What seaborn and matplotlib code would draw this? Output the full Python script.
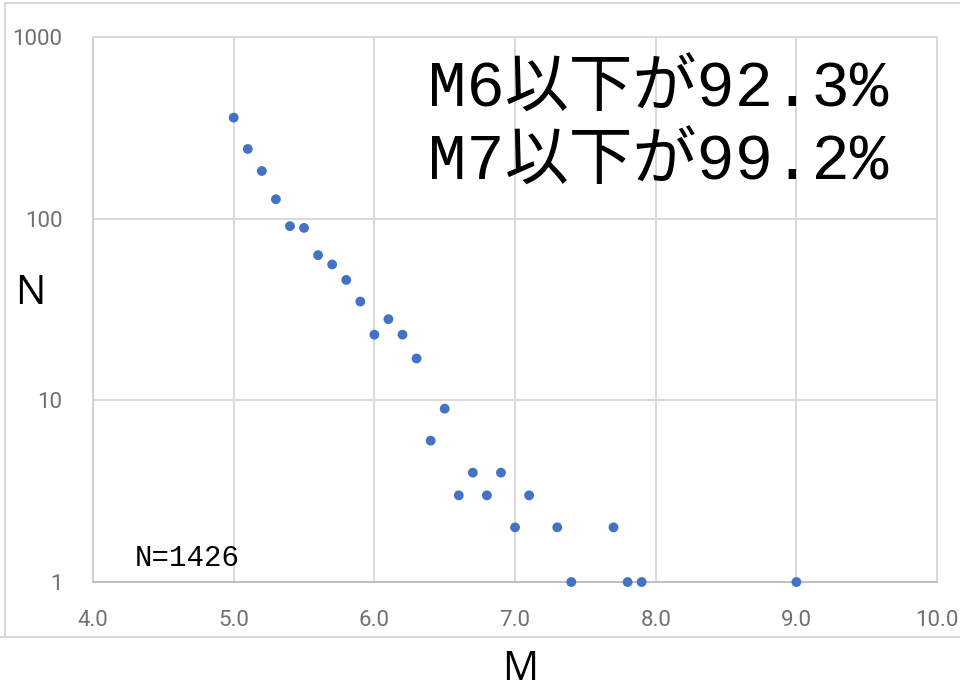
# Magnitude-frequency plot (log scale), N=1426
import matplotlib
matplotlib.use("Agg")
import matplotlib.pyplot as plt
import matplotlib.ticker as mticker
from matplotlib.lines import Line2D
import pandas as pd
import seaborn as sns

# Data
magnitude = [5.0, 5.1, 5.2, 5.3, 5.4, 5.5, 5.6, 5.7, 5.8, 5.9,
             6.0, 6.1, 6.2, 6.3, 6.4, 6.5, 6.6, 6.7, 6.8, 6.9,
             7.0, 7.1, 7.3, 7.4, 7.7, 7.8, 7.9, 9.0]
count = [360, 242, 183, 128, 91, 89, 63, 56, 46, 35,
         23, 28, 23, 17, 6, 9, 3, 4, 3, 4,
         2, 3, 2, 1, 2, 1, 1, 1]
x_ticks = [4.0, 5.0, 6.0, 7.0, 8.0, 9.0, 10.0]
y_ticks = [1, 10, 100, 1000]
notes = ["M6以下が92.3%", "M7以下が99.2%"]

df = pd.DataFrame({"M": magnitude, "N": count})

sns.set_style("white")
plt.rcParams['font.family'] = ['Open Sans', 'Noto Sans CJK JP', 'DejaVu Sans']

fig = plt.figure(figsize=(9.6, 6.87), dpi=100)
ax = fig.add_axes([0.0969, 0.1528, 0.8792, 0.7933])

grid_col = "#d9d9d9"
ax.set_yscale("log")
ax.set_xlim(4.0, 10.0)
ax.set_ylim(1, 1000)

sns.scatterplot(data=df, x="M", y="N", ax=ax, color="#4472C4", s=50,
                marker="o", edgecolor="none", clip_on=False, zorder=5)

ax.set_xticks(x_ticks)
ax.set_xticklabels([f"{t:.1f}" for t in x_ticks])
ax.xaxis.set_minor_locator(mticker.MultipleLocator(0.2))
ax.set_yticks(y_ticks)
ax.set_yticklabels([str(t) for t in y_ticks])
ax.yaxis.set_minor_locator(mticker.NullLocator())

ax.grid(True, which="major", color=grid_col, linewidth=1.4, zorder=0)
ax.set_axisbelow(True)
for sp in ax.spines.values():
    sp.set_color(grid_col)
    sp.set_linewidth(1.4)
ax.spines["bottom"].set_color("#bfbfbf")
ax.spines["left"].set_color("#cfcfcf")

tick_font = ['Roboto', 'DejaVu Sans']
ax.tick_params(axis="x", which="major", length=0, pad=20, labelsize=16, labelcolor="#707070")
ax.tick_params(axis="x", which="minor", direction="in", length=5, width=1.2, color="#bfbfbf")
ax.tick_params(axis="y", which="major", length=0, pad=22, labelsize=16, labelcolor="#707070")
for lab in ax.get_xticklabels() + ax.get_yticklabels():
    lab.set_family(tick_font)

ax.set_xlabel("")
ax.set_ylabel("")

# notes
mono_cjk = ['Liberation Mono', 'Noto Sans CJK JP']
ax.text(0.397, 0.903, notes[0], transform=ax.transAxes, fontsize=46,
        family=mono_cjk, color="black", va="center", ha="left", zorder=6)
ax.text(0.397, 0.769, notes[1], transform=ax.transAxes, fontsize=46,
        family=mono_cjk, color="black", va="center", ha="left", zorder=6)
ax.text(0.05, 0.044, "N=1426", transform=ax.transAxes, fontsize=21,
        family=['Liberation Mono'], color="black", va="center", ha="left")

# axis titles
fig.text(30 / 960, 1 - 294 / 687, "N", fontsize=29, color="black", ha="center", va="center")
fig.text(520 / 960, 1 - 670 / 687, "M", fontsize=29, color="black", ha="center", va="center")

# outer chart frame
fig.add_artist(Line2D([5 / 960, 5 / 960], [1 - 3 / 687, 1 - 637 / 687], color=grid_col, lw=1.5))
fig.add_artist(Line2D([5 / 960, 1.0], [1 - 3 / 687, 1 - 3 / 687], color=grid_col, lw=1.5))
fig.add_artist(Line2D([0.0, 1.0], [1 - 637 / 687, 1 - 637 / 687], color=grid_col, lw=1.5))

fig.savefig("out.png", dpi=100)
